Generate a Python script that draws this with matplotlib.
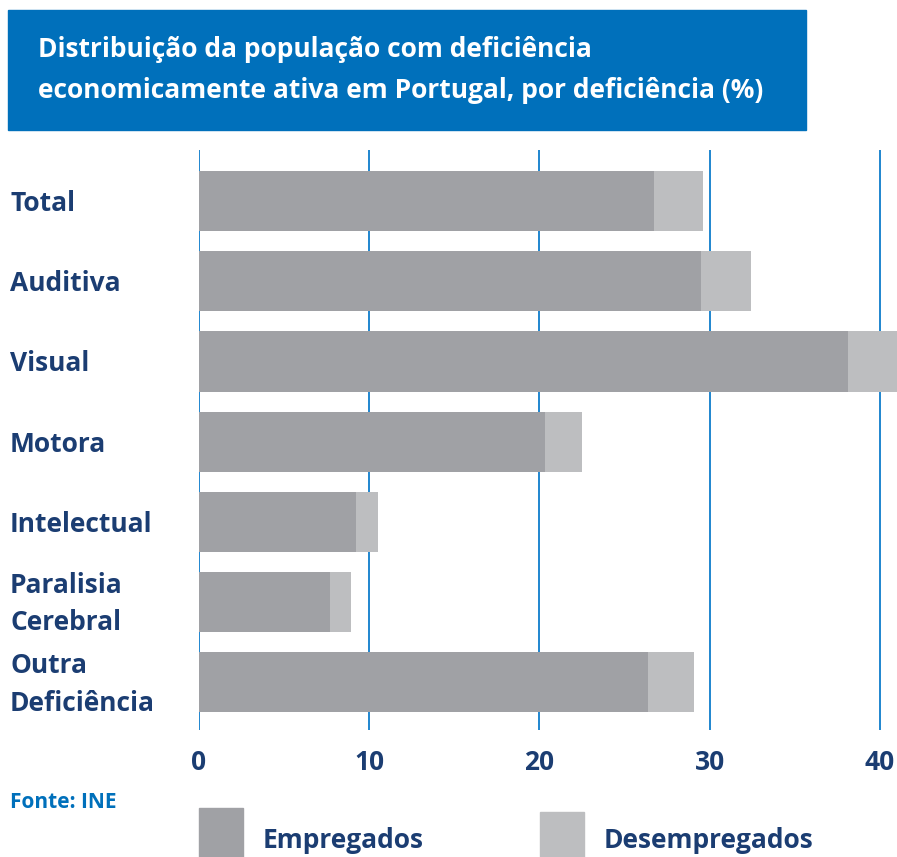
import matplotlib.pyplot as plt
from matplotlib.patches import Rectangle
from matplotlib.transforms import blended_transform_factory

categories = ["Total", "Auditiva", "Visual", "Motora", "Intelectual",
              "Paralisia\nCerebral", "Outra\nDeficiência"]
empregados = [26.7, 29.5, 38.1, 20.3, 9.2, 7.7, 26.4]
desempregados = [2.9, 2.9, 2.9, 2.2, 1.3, 1.2, 2.7]
xticks = [0, 10, 20, 30, 40]

title = "Distribuição da população com deficiência\neconomicamente ativa em Portugal, por deficiência (%)"
fonte = "Fonte: INE"

navy = "#1b3d72"
blue = "#0070bb"
c_emp = "#a0a1a5"
c_des = "#bdbec0"

plt.rcParams['font.family'] = ['Open Sans', 'DejaVu Sans']

W, H = 897, 857
fig = plt.figure(figsize=(W / 100, H / 100), dpi=100)

# plot area in pixels: x 199..897, y 150..730
ax = fig.add_axes([199 / W, 1 - 730 / H, (897 - 199) / W, (730 - 150) / H])
y = list(range(len(categories)))
ax.barh(y, empregados, height=0.75, color=c_emp, zorder=2)
ax.barh(y, desempregados, left=empregados, height=0.75, color=c_des, zorder=2)

ax.set_xlim(0, 41)
ax.set_ylim(6.6, -0.64)
ax.set_xticks(xticks)
ax.xaxis.grid(True, color="#1f86cf", linewidth=1.4, zorder=0)
ax.set_axisbelow(True)
ax.tick_params(axis="x", length=0, pad=14, labelsize=19, labelcolor=navy)
for lab in ax.get_xticklabels():
    lab.set_fontweight("bold")
ax.set_yticks([])
for s in ax.spines.values():
    s.set_visible(False)

# category labels, left aligned at x=10 px
trans = blended_transform_factory(fig.transFigure, ax.transData)
for i, cat in enumerate(categories):
    ax.text(10 / W, i + 0.03, cat, transform=trans, ha="left", va="center",
            fontsize=19, fontweight="bold", color=navy, linespacing=1.5)

# title box
fig.patches.append(Rectangle((8 / W, 1 - 130 / H), (806 - 8) / W, 120 / H,
                             transform=fig.transFigure, color=blue, zorder=0))
fig.text(38 / W, 1 - 70 / H, title, ha="left", va="center", fontsize=19,
         fontweight="bold", color="white", linespacing=1.65)

fig.text(10 / W, 1 - 803 / H, fonte, ha="left", va="center", fontsize=15,
         fontweight="bold", color=blue)

# legend
fig.patches.append(Rectangle((199 / W, 0), 44 / W, 49 / H, transform=fig.transFigure, color=c_emp))
fig.patches.append(Rectangle((540 / W, 0), 44 / W, 45 / H, transform=fig.transFigure, color=c_des))
fig.text(263 / W, 1 - 840 / H, "Empregados", ha="left", va="center", fontsize=19,
         fontweight="bold", color=navy)
fig.text(604 / W, 1 - 840 / H, "Desempregados", ha="left", va="center", fontsize=19,
         fontweight="bold", color=navy)

fig.savefig("out.png", dpi=100)
